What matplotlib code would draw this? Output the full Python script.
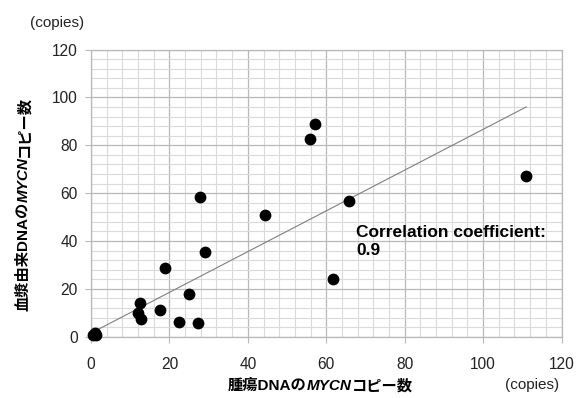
import matplotlib
matplotlib.use('Agg')
import matplotlib.pyplot as plt
from matplotlib.ticker import MultipleLocator

# Data (copies)
tumor_copies = [0.6, 1.0, 1.4, 0.9, 12.5, 12.0, 12.8, 17.5, 18.8, 22.5, 25.0,
                27.2, 29.0, 27.8, 44.3, 55.8, 57.2, 61.7, 65.9, 110.9]
plasma_copies = [0.8, 1.3, 0.9, 1.7, 14.0, 10.0, 7.5, 11.0, 28.8, 6.2, 18.0,
                 5.8, 35.5, 58.5, 50.8, 82.5, 89.0, 24.0, 56.5, 67.2]
trend_x = [0, 111]
trend_y = [1.5, 96]
x_ticks = [0, 20, 40, 60, 80, 100, 120]
y_ticks = [0, 20, 40, 60, 80, 100, 120]
corr_text = 'Correlation coefficient:\n0.9'

latin = ['Liberation Sans', 'Noto Sans CJK JP']
plt.rcParams['font.family'] = latin

fig = plt.figure(figsize=(5.76, 3.98), dpi=100)
ax = fig.add_axes([91 / 576, 1 - 336.7 / 398, 470.5 / 576, 287.2 / 398])

# grid: light minor lines every 4, darker major every 20
ax.set_xlim(0, 120)
ax.set_ylim(0, 120)
ax.set_xticks(x_ticks)
ax.set_yticks(y_ticks)
ax.xaxis.set_minor_locator(MultipleLocator(4))
ax.yaxis.set_minor_locator(MultipleLocator(4))
ax.grid(which='minor', color='#dadada', linewidth=0.8)
ax.grid(which='major', color='#b8b8b8', linewidth=0.9)
ax.set_axisbelow(True)
for s in ax.spines.values():
    s.set_color('#b8b8b8')
    s.set_linewidth(0.9)
ax.tick_params(which='major', length=4.5, color='#b8b8b8', labelsize=11.2,
               labelcolor='#222222')
ax.tick_params(axis='x', which='major', pad=10)
ax.tick_params(axis='y', which='major', pad=5)
ax.tick_params(which='minor', length=0)

ax.plot(trend_x, trend_y, color='#7f7f7f', linewidth=0.8, zorder=2)
ax.scatter(tumor_copies, plasma_copies, s=72, color='black', zorder=3,
           linewidths=0, clip_on=False)

ax.text(67.6, 46.5, corr_text, fontsize=12.5, fontweight='bold', va='top',
        ha='left', linespacing=1.25, zorder=4)

# unit labels
fig.text(57 / 576, 1 - 23 / 398, '(copies)', fontsize=11, ha='center',
         va='center', color='#222222')
fig.text(532 / 576, 1 - 385 / 398, '(copies)', fontsize=11, ha='center',
         va='center', color='#222222')

# x label with italic MYCN
jp = dict(fontsize=11, fontweight='bold', family=latin)
t1 = fig.text(228 / 576, 1 - 386 / 398, '腫瘍DNAの', ha='left', va='center', **jp)
t2 = ax.annotate('MYCN', xy=(1, 0.5), xycoords=t1, ha='left', va='center',
                 style='italic', annotation_clip=False, **jp)
ax.annotate('コピー数', xy=(1, 0.5), xycoords=t2, ha='left', va='center',
            annotation_clip=False, **jp)

# y label with italic MYCN
r1 = fig.text(24 / 576, 1 - 311 / 398, '血漿由来DNAの', ha='center', va='bottom',
              rotation=90, **jp)
r2 = ax.annotate('MYCN', xy=(0.5, 1), xycoords=r1, ha='center', va='bottom',
                 rotation=90, style='italic', annotation_clip=False, **jp)
ax.annotate('コピー数', xy=(0.5, 1), xycoords=r2, ha='center', va='bottom',
            rotation=90, annotation_clip=False, **jp)

fig.savefig('out.png', dpi=100, facecolor='white')
